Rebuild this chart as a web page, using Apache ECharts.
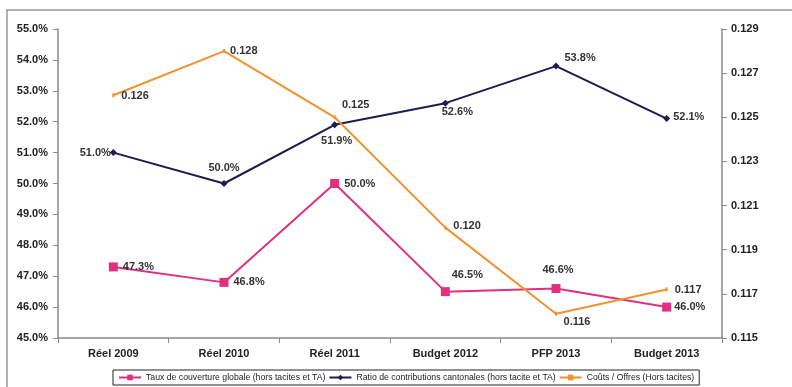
<!DOCTYPE html>
<html><head><meta charset="utf-8">
<script src="https://cdn.jsdelivr.net/npm/echarts@6/dist/echarts.min.js"></script>
<style>html,body{margin:0;padding:0;background:#fff}#c{width:792px;height:387px}</style>
</head><body><div id="c"></div>
<script>
const categories = ['Réel 2009','Réel 2010','Réel 2011','Budget 2012','PFP 2013','Budget 2013'];
const tauxCouverture = [47.3, 46.8, 50.0, 46.5, 46.6, 46.0];
const ratioContrib = [51.0, 50.0, 51.9, 52.6, 53.8, 52.1];
const coutsOffres = [0.126, 0.128, 0.125, 0.120, 0.1161, 0.1172];
const coutsLabels = ['0.126','0.128','0.125','0.120','0.116','0.117'];
const seriesNames = ['Taux de couverture globale (hors tacites et TA)','Ratio de contributions cantonales (hors tacite et TA)','Coûts / Offres (Hors tacites)'];

const font = 'Liberation Sans, Arial, sans-serif';
const lbl = {show:true, fontFamily:font, fontWeight:'bold', fontSize:11, color:'#333'};
const pinkPos = [['right',[0,0]],['right',[0,0]],['right',[0,0]],['top',[22,-2]],['top',[2,-4]],['right',[-2,0]]];
const navyPos = [['left',[6,0]],['top',[0,-2]],['bottom',[2,2]],['bottom',[12,-5]],['right',[0,-8]],['right',[-2,-2]]];
const orPos = [['right',[2,1]],['right',[0,0]],['top',[21,0]],['right',[2,-2]],['bottom',[21,-4]],['right',[2,1]]];
function mk(vals, pos, fmt){
  return vals.map((v,i)=>({value:v, label:Object.assign({}, lbl, {position:pos[i][0], offset:pos[i][1], formatter:fmt(i)})}));
}
const chart = echarts.init(document.getElementById('c'));
const axisLine = {lineStyle:{color:'#8a8a8a', width:1.5}};
chart.setOption({
  animation:false,
  textStyle:{fontFamily:font},
  graphic:[{type:'rect', shape:{x:7,y:10,width:800,height:400}, style:{fill:null, stroke:'#999', lineWidth:1.5}, silent:true}],
  grid:{left:58, right:70, top:29, bottom:49, containLabel:false},
  legend:{bottom:2, left:113, itemWidth:22, itemHeight:7, itemGap:3, padding:[3,5], borderColor:'#222', borderWidth:1,
    textStyle:{fontSize:8.7, fontFamily:font, color:'#222'}, data:seriesNames},
  xAxis:{type:'category', data:categories, boundaryGap:true, axisLine:axisLine,
    axisTick:{show:true, alignWithLabel:false, length:5, lineStyle:{color:'#8a8a8a'}},
    axisLabel:{fontWeight:'bold', fontSize:11, color:'#222', margin:10}},
  yAxis:[
    {type:'value', min:45, max:55, interval:1, axisLine:{show:true, lineStyle:{color:'#8a8a8a', width:1.5}}, splitLine:{show:false},
      axisTick:{show:true, length:5, lineStyle:{color:'#8a8a8a'}},
      axisLabel:{formatter:v=>v.toFixed(1)+'%', fontWeight:'bold', fontSize:11, color:'#222', margin:10}},
    {type:'value', min:0.115, max:0.129, interval:0.002, position:'right', axisLine:{show:true, lineStyle:{color:'#8a8a8a', width:1.5}}, splitLine:{show:false},
      axisTick:{show:true, length:5, lineStyle:{color:'#8a8a8a'}},
      axisLabel:{formatter:v=>v.toFixed(3), fontWeight:'bold', fontSize:11, color:'#222', margin:9}}
  ],
  series:[
    {name:seriesNames[0], type:'line', yAxisIndex:0, data:mk(tauxCouverture,pinkPos,i=>tauxCouverture[i].toFixed(1)+'%'),
      symbol:'rect', symbolSize:9, lineStyle:{color:'#e0307e', width:2}, itemStyle:{color:'#e0307e'}},
    {name:seriesNames[1], type:'line', yAxisIndex:0, data:mk(ratioContrib,navyPos,i=>ratioContrib[i].toFixed(1)+'%'),
      symbol:'diamond', symbolSize:7, lineStyle:{color:'#1c1c50', width:2}, itemStyle:{color:'#1c1c50'}},
    {name:seriesNames[2], type:'line', yAxisIndex:1, data:mk(coutsOffres,orPos,i=>coutsLabels[i]),
      symbol:'rect', symbolSize:[2,4], lineStyle:{color:'#f0922e', width:2}, itemStyle:{color:'#f0922e'}}
  ]
});
</script></body></html>
